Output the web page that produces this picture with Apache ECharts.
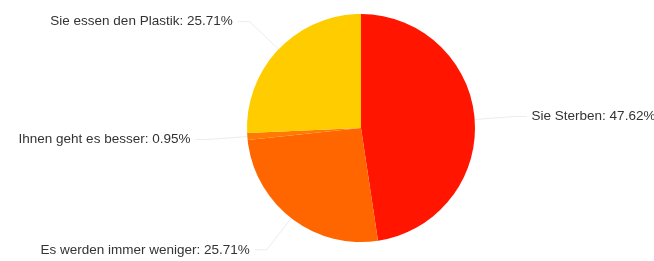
<!DOCTYPE html>
<html>
<head>
<meta charset="utf-8">
<script src="https://cdn.jsdelivr.net/npm/echarts@6/dist/echarts.min.js"></script>
<style>
  html, body { margin: 0; padding: 0; background: #fff; }
  #chart { width: 654px; height: 261px; }
</style>
</head>
<body>
<div id="chart"></div>
<script>
// answers and how often each was chosen
var categories = ['Sie Sterben', 'Es werden immer weniger', 'Ihnen geht es besser', 'Sie essen den Plastik'];
var counts = [50, 27, 1, 27];
var colors = ['#ff1500', '#ff6600', '#ff7a00', '#ffcc00'];

var total = counts.reduce(function (a, b) { return a + b; }, 0);

var chart = echarts.init(document.getElementById('chart'));

var option = {
	animation: false,
	series: [{
		type: 'pie',
		center: [361, 128],
		radius: 114,
		startAngle: 90,
		clockwise: true,
		avoidLabelOverlap: false,
		data: categories.map(function (name, i) {
			return { name: name, value: counts[i], itemStyle: { color: colors[i] } };
		}),
		label: {
			// plain rounding, the source shows 25.71% twice
			formatter: function (p) {
				return p.name + ': ' + (p.value / total * 100).toFixed(2) + '%';
			},
			fontFamily: 'Liberation Sans, Arial, sans-serif',
			fontSize: 13.5,
			color: '#333'
		},
		labelLine: {
			length: 40,
			length2: 12,
			lineStyle: { color: '#ececec', width: 1 }
		}
	}]
};

chart.setOption(option);
</script>
</body>
</html>
